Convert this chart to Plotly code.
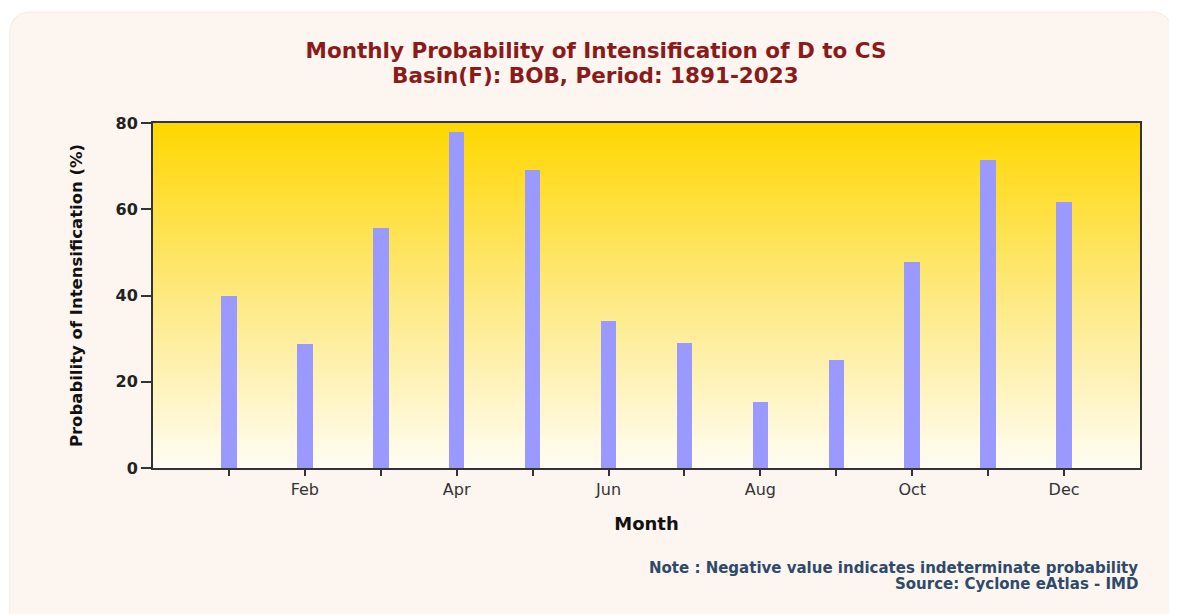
import plotly.graph_objects as go

months = ["Jan", "Feb", "Mar", "Apr", "May", "Jun", "Jul", "Aug", "Sep", "Oct", "Nov", "Dec"]
probability = [40.0, 28.7, 55.7, 77.8, 69.0, 34.0, 29.0, 15.3, 25.0, 47.7, 71.5, 61.7]
tick_labels = ["", "Feb", "", "Apr", "", "Jun", "", "Aug", "", "Oct", "", "Dec"]
y_ticks = [0, 20, 40, 60, 80]
y_range = [0, 80]

x_idx = list(range(len(months)))
x_lo, x_hi = -1, len(months)

fig = go.Figure()

# vertical gradient background of the plotting area (heatmap is drawn below bars)
fig.add_trace(go.Heatmap(
    x=[x_lo, x_hi], y=y_range, z=[[0, 0], [1, 1]],
    zsmooth="best", showscale=False, hoverinfo="skip",
    colorscale=[[0, "#FFFDF4"], [0.5, "#FEE980"], [1, "#FFD700"]],
))

fig.add_trace(go.Bar(
    x=x_idx, y=probability, width=0.205,
    marker=dict(color="#9999FF", line=dict(width=0)),
    customdata=months, hovertemplate="%{customdata}: %{y}<extra></extra>",
    showlegend=False,
))

# card background with rounded top corners (paper coords)
x0, x1, y0, y1 = -0.1449, 1.0324, -0.45, 1.3217
rx, ry = 0.022, 0.063
card_path = (f"M {x0+rx},{y1} L {x1-rx},{y1} Q {x1},{y1} {x1},{y1-ry} "
             f"L {x1},{y0} L {x0},{y0} L {x0},{y1-ry} Q {x0},{y1} {x0+rx},{y1} Z")

title_font = dict(family="DejaVu Sans", size=21.5, color="#8B1A1A", weight="bold")
note_font = dict(family="DejaVu Sans", size=15, color="#2E4A6B", weight="bold")

fig.update_layout(
    width=1169, height=606,
    margin=dict(l=145, r=37, t=115, b=146),
    paper_bgcolor="#FFFFFF",
    plot_bgcolor="rgba(0,0,0,0)",
    shapes=[dict(type="path", path=card_path, xref="paper", yref="paper",
                 fillcolor="#FDF5EF", line=dict(color="#F2EAE4", width=1), layer="below")],
    title=dict(
        text="Monthly Probability of Intensification of D to CS",
        x=0.503, xanchor="center", y=0.9307, yanchor="middle",
        font=title_font,
    ),
    font=dict(family="DejaVu Sans"),
    bargap=0,
)

fig.add_annotation(
    text="Basin(F): BOB, Period: 1891-2023",
    xref="paper", yref="paper", x=0.4488, y=1.139, xanchor="center", yanchor="middle",
    showarrow=False, font=title_font,
)

fig.update_xaxes(
    range=[x_lo, x_hi], tickmode="array", tickvals=x_idx, ticktext=tick_labels,
    ticks="outside", ticklen=6, tickcolor="#333333", tickwidth=1.5,
    showline=True, linecolor="#333333", linewidth=2, mirror=True,
    showgrid=False, zeroline=False,
    tickfont=dict(size=16, color="#333333"),
    title=dict(text="Month", font=dict(size=18, color="#111111", weight="bold"), standoff=19),
)
fig.update_yaxes(
    range=y_range, tickvals=y_ticks,
    ticks="outside", ticklen=10, tickcolor="#333333", tickwidth=1.5,
    showline=True, linecolor="#333333", linewidth=2, mirror=True,
    showgrid=False, zeroline=False,
    tickfont=dict(size=16, color="#222222", weight="bold"),
    title=dict(text="Probability of Intensification (%)", font=dict(size=16.5, color="#111111", weight="bold"), standoff=29),
)

fig.add_annotation(
    text="Note : Negative value indicates indeterminate probability",
    xref="paper", yref="paper", x=0.9995, y=-0.29, xanchor="right", yanchor="middle",
    showarrow=False, font=note_font,
)
fig.add_annotation(
    text="Source: Cyclone eAtlas - IMD",
    xref="paper", yref="paper", x=0.9995, y=-0.336, xanchor="right", yanchor="middle",
    showarrow=False, font=note_font,
)

fig.write_html("out.html")
